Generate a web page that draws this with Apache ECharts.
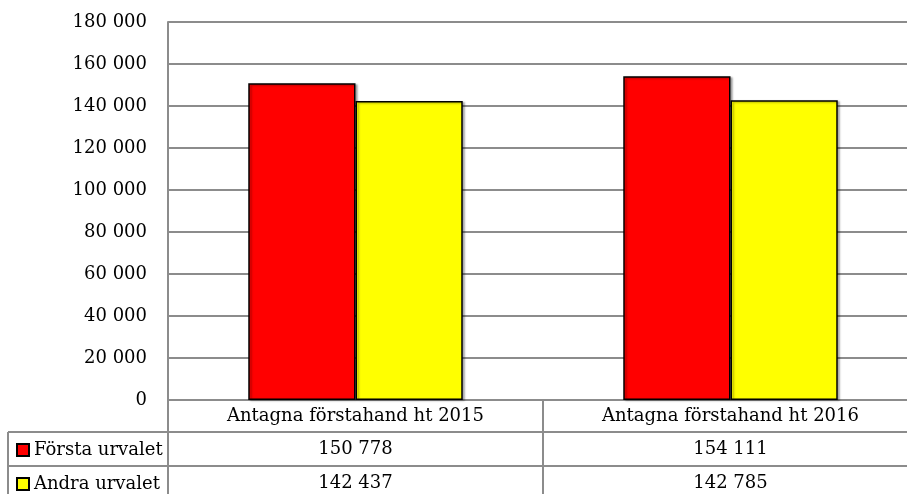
<!DOCTYPE html>
<html>
<head>
<meta charset="utf-8">
<script src="https://cdn.jsdelivr.net/npm/echarts@6/dist/echarts.min.js"></script>
<style>
  html, body { margin: 0; padding: 0; background: #fff; }
  #chart { width: 907px; height: 494px; }
</style>
</head>
<body>
<div id="chart"></div>
<script>
// data
var categories = ['Antagna förstahand ht 2015', 'Antagna förstahand ht 2016'];
var seriesNames = ['Första urvalet', 'Andra urvalet'];
var forstaValues = [150778, 154111];
var andraValues = [142437, 142785];
var yTicks = [0, 20000, 40000, 60000, 80000, 100000, 120000, 140000, 160000, 180000];

var FONT = 'DejaVu Serif';
var GRID_COLOR = '#8c8c8c';

function fmt(v) {
    return String(v).replace(/\B(?=(\d{3})+(?!\d))/g, ' ');
}

var chart = echarts.init(document.getElementById('chart'));

var option = {
    animation: false,
    textStyle: { fontFamily: FONT, color: '#000' },
    // plot area runs past the right edge of the picture
    grid: { left: 168, top: 22, width: 750, bottom: 94, containLabel: false, outerBoundsMode: 'none' },
    legend: {
        orient: 'vertical',
        left: 16,
        top: 441,
        itemWidth: 12,
        itemHeight: 12,
        itemGap: 16,
        padding: 0,
        icon: 'rect',
        selectedMode: false,
        textStyle: { fontFamily: FONT, fontSize: 18, color: '#000' },
        data: seriesNames
    },
    xAxis: [{
        type: 'category',
        data: categories,
        axisLine: { lineStyle: { color: GRID_COLOR, width: 2 } },
        axisTick: { show: true, length: 100, lineStyle: { color: GRID_COLOR, width: 2 } },
        axisLabel: { fontFamily: FONT, fontSize: 18, color: '#000', margin: 7, lineHeight: 18 }
    }, {
        type: 'category',
        data: categories,
        position: 'bottom',
        axisLine: { show: false },
        axisTick: { show: false },
        axisLabel: {
            fontFamily: FONT, fontSize: 18, color: '#000', margin: 40, lineHeight: 18,
            formatter: function (v, i) { return fmt(forstaValues[i]); }
        }
    }, {
        type: 'category',
        data: categories,
        position: 'bottom',
        axisLine: { show: false },
        axisTick: { show: false },
        axisLabel: {
            fontFamily: FONT, fontSize: 18, color: '#000', margin: 74, lineHeight: 18,
            formatter: function (v, i) { return fmt(andraValues[i]); }
        }
    }],
    yAxis: {
        type: 'value',
        min: yTicks[0],
        max: yTicks[yTicks.length - 1],
        interval: 20000,
        axisLine: { show: true, lineStyle: { color: GRID_COLOR, width: 2 } },
        axisTick: { show: false },
        splitLine: { lineStyle: { color: GRID_COLOR, width: 2 } },
        axisLabel: {
            fontFamily: FONT, fontSize: 18, color: '#000', margin: 21,
            formatter: function (v) { return fmt(v); }
        }
    },
    series: [{
        name: seriesNames[0],
        type: 'bar',
        data: forstaValues,
        barWidth: '28.6%',
        barGap: '0%',
        itemStyle: { color: '#ff0000', borderColor: '#000', borderWidth: 1.5,
            shadowColor: 'rgba(0,0,0,0.3)', shadowOffsetX: 2, shadowOffsetY: 1, shadowBlur: 2 }
    }, {
        name: seriesNames[1],
        type: 'bar',
        data: andraValues,
        barWidth: '28.6%',
        barGap: '0%',
        itemStyle: { color: '#ffff00', borderColor: '#000', borderWidth: 1.5,
            shadowColor: 'rgba(0,0,0,0.3)', shadowOffsetX: 2, shadowOffsetY: 1, shadowBlur: 2 }
    }]
};

chart.setOption(option);

// data table borders below the axis
var row1 = 432, row2 = 466, leftEdge = 8;
chart.setOption({
    graphic: [
        { type: 'line', shape: { x1: leftEdge, y1: row1, x2: 907, y2: row1 }, style: { stroke: GRID_COLOR, lineWidth: 2 }, silent: true },
        { type: 'line', shape: { x1: leftEdge, y1: row2, x2: 907, y2: row2 }, style: { stroke: GRID_COLOR, lineWidth: 2 }, silent: true },
        { type: 'line', shape: { x1: leftEdge, y1: row1, x2: leftEdge, y2: 494 }, style: { stroke: GRID_COLOR, lineWidth: 2 }, silent: true }
    ]
});
</script>
</body>
</html>
